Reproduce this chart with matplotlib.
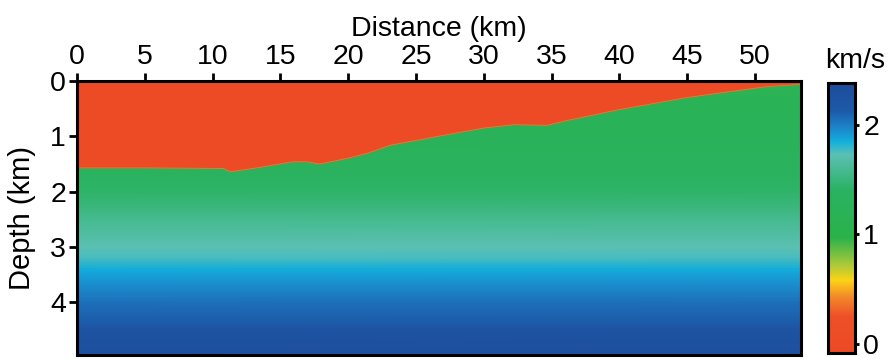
import matplotlib.pyplot as plt
import numpy as np
from matplotlib.colors import LinearSegmentedColormap, Normalize

plt.rcParams["font.family"] = ["Liberation Sans", "DejaVu Sans"]

# seafloor (water bottom) depth along the profile
seafloor_x = [0, 5, 10.8, 11.3, 13, 15.9, 17.0, 17.9, 20.1, 21.5, 23.1, 25.1,
              27.5, 30.0, 32.2, 34.7, 36.2, 38, 39.9, 42, 44.7, 47, 49.4, 51, 52.8, 53.4]
seafloor_z = [1.57, 1.57, 1.58, 1.64, 1.58, 1.46, 1.46, 1.50, 1.39, 1.30, 1.16, 1.07,
              0.96, 0.85, 0.79, 0.80, 0.71, 0.62, 0.52, 0.43, 0.31, 0.23, 0.15, 0.10, 0.07, 0.06]

# velocity below the seafloor as a function of depth
vel_depth = [0.0, 1.0, 1.6, 2.0, 2.5, 3.0, 3.2, 3.4, 3.6, 4.0, 4.5, 5.0]
vel_value = [1.15, 1.25, 1.32, 1.42, 1.58, 1.72, 1.76, 1.86, 1.92, 2.05, 2.25, 2.32]
water_value = 0.0

# colour scale
cb_vals = [-0.08, 0.25, 0.43, 0.58, 0.73, 0.97, 1.40, 1.73, 1.85, 1.97, 2.13, 2.38]
cb_cols = ["#ec4a26", "#ee5028", "#f38a2a", "#fcd416", "#a7c93c", "#2bb34a",
           "#2ab262", "#5cc0b4", "#12b0dc", "#1d86cc", "#1d5aa8", "#1e4c9c"]
vmin, vmax = cb_vals[0], cb_vals[-1]

x_ticks = [0, 5, 10, 15, 20, 25, 30, 35, 40, 45, 50]
z_ticks = [0, 1, 2, 3, 4]
cb_ticks = [0, 1, 2]
x_max, z_max = 53.4, 4.95

pos = [(v - vmin) / (vmax - vmin) for v in cb_vals]
cmap = LinearSegmentedColormap.from_list("vel", list(zip(pos, cb_cols)))
norm = Normalize(vmin=vmin, vmax=vmax)

fig = plt.figure(figsize=(8.91, 3.6), dpi=100)
ax = fig.add_axes([77 / 891, 5 / 360, 724 / 891, 274 / 360])

vel = np.array(vel_value)[:, None].repeat(2, axis=1)
ax.pcolormesh([0, x_max], vel_depth, vel, cmap=cmap, norm=norm, shading="gouraud")
ax.fill_between(seafloor_x, 0, seafloor_z, color=cmap(norm(water_value)), lw=0)
ax.plot(seafloor_x, seafloor_z, color="#b9b83e", lw=0.6, alpha=0.6)

ax.set_xlim(0, x_max)
ax.set_ylim(z_max, 0)
ax.xaxis.tick_top()
ax.xaxis.set_label_position("top")
ax.set_xticks(x_ticks)
ax.set_yticks(z_ticks)
ax.set_xlabel("Distance (km)", fontsize=20.5, labelpad=6)
ax.set_ylabel("Depth (km)", fontsize=21, labelpad=10)
ax.tick_params(labelsize=20.5, length=6, width=2, pad=2, color="black")
for s in ax.spines.values():
    s.set_linewidth(2.2)

cax = fig.add_axes([828 / 891, 7 / 360, 27 / 891, 270 / 360])
grad = np.linspace(vmin, vmax, 256)[:, None]
cax.imshow(grad, aspect="auto", origin="lower", cmap=cmap, norm=norm,
           extent=[0, 1, vmin, vmax])
cax.set_xticks([])
cax.yaxis.tick_right()
cax.set_yticks(cb_ticks)
cax.tick_params(labelsize=20.5, length=3, width=2, pad=3)
for s in cax.spines.values():
    s.set_linewidth(2.2)
fig.text(855 / 891, 1 - 68 / 360, "km/s", fontsize=20.5, ha="center", va="baseline")

plt.savefig("out.png", dpi=100)
